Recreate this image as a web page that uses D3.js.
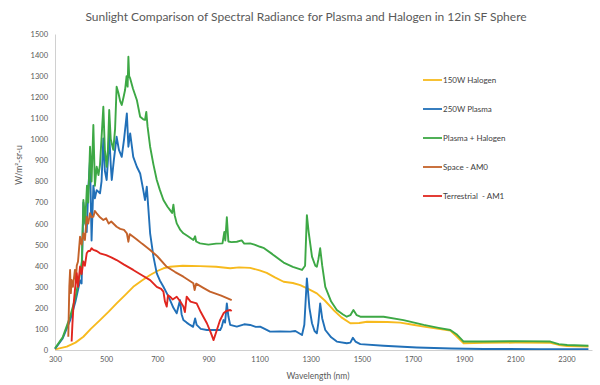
<!DOCTYPE html>
<html>
<head>
<meta charset="utf-8">
<script src="https://cdn.jsdelivr.net/npm/d3@7"></script>
<style>
  body { margin: 0; background: #fff; }
  svg { display: block; }
  text { font-family: Lato, "Open Sans", sans-serif; }
</style>
</head>
<body>
<div id="chart"></div>
<script>
// [wavelength nm, W/m2-sr-u]
const halogen = [[300,3],[346,16],[380,35],[411,63],[440,100],[476,142],[510,182],[541,221],[575,262],[606,300],[640,330],[672,356],[700,375],[724,388],[750,395],[800,400],[867,398],[930,395],[985,388],[1020,392],[1063,390],[1100,378],[1128,366],[1160,345],[1194,324],[1230,318],[1259,308],[1290,290],[1324,269],[1355,235],[1389,190],[1420,155],[1455,127],[1490,128],[1520,134],[1600,133],[1650,130],[1700,120],[1742,111],[1800,100],[1846,92],[1870,65],[1898,32],[1976,34],[2100,35],[2237,34],[2270,24],[2303,19],[2386,16]];

const plasma = [[300,5],[330,55],[359,140],[380,230],[398,330],[404,316],[411,700],[417,620],[424,560],[430,760],[437,900],[443,520],[450,780],[456,720],[463,759],[476,744],[482,800],[489,1004],[495,850],[502,807],[507,900],[512,1028],[518,880],[522,807],[530,900],[541,1012],[550,950],[561,917],[570,1000],[581,1123],[587,965],[594,1028],[606,917],[620,870],[633,838],[645,760],[652,712],[659,775],[664,690],[672,554],[685,443],[698,364],[710,330],[724,300],[737,270],[750,237],[763,200],[776,174],[789,237],[795,170],[802,142],[815,130],[828,119],[840,110],[848,150],[854,119],[870,100],[894,95],[920,95],[946,95],[952,110],[959,142],[965,130],[972,221],[978,160],[985,119],[1011,111],[1040,122],[1063,119],[1085,110],[1102,111],[1120,100],[1141,87],[1180,88],[1220,87],[1240,90],[1266,71],[1275,120],[1285,340],[1295,200],[1305,127],[1315,90],[1324,79],[1330,130],[1337,221],[1345,150],[1357,95],[1380,60],[1402,40],[1441,32],[1455,35],[1465,58],[1475,40],[1494,28],[1585,20],[1715,12],[1850,7],[1976,5],[2200,4],[2386,4]];

const combined = [[300,8],[330,60],[359,158],[380,250],[398,365],[405,420],[411,712],[418,600],[425,780],[430,700],[437,965],[443,800],[450,1068],[456,780],[463,870],[470,830],[476,880],[489,1155],[495,950],[502,870],[507,950],[512,1139],[518,1000],[528,950],[535,1050],[541,1250],[548,1220],[555,1180],[561,1163],[568,1200],[574,1234],[580,1300],[584,1250],[587,1392],[590,1300],[594,1289],[605,1240],[620,1187],[633,1107],[645,1095],[652,1092],[657,1130],[662,1060],[672,965],[685,880],[698,807],[710,760],[724,712],[740,680],[750,664],[758,650],[763,690],[768,640],[776,601],[790,570],[802,554],[820,540],[841,522],[848,540],[852,515],[867,506],[900,500],[930,505],[955,506],[962,560],[966,520],[972,630],[978,515],[990,512],[1011,514],[1030,520],[1040,505],[1063,506],[1080,500],[1102,490],[1115,485],[1150,455],[1194,415],[1230,395],[1266,380],[1278,400],[1285,640],[1292,560],[1305,443],[1318,400],[1324,395],[1330,430],[1337,483],[1345,400],[1357,300],[1380,230],[1402,190],[1425,170],[1441,158],[1455,165],[1467,190],[1480,165],[1494,158],[1585,158],[1663,142],[1742,119],[1800,105],[1846,95],[1870,75],[1898,40],[1976,40],[2100,42],[2237,40],[2270,28],[2303,24],[2386,20]];

const spaceAM0 = [[352,63],[356,300],[359,380],[362,270],[365,332],[370,300],[378,380],[382,330],[385,400],[390,420],[398,538],[404,500],[411,554],[417,522],[424,633],[430,600],[437,649],[443,630],[450,633],[456,660],[463,649],[476,630],[489,617],[500,625],[510,600],[520,610],[541,585],[555,575],[570,570],[581,554],[587,514],[592,550],[606,538],[620,525],[640,505],[672,475],[700,445],[737,395],[770,370],[802,348],[841,317],[846,285],[852,315],[880,295],[906,277],[950,258],[991,237]];

const terrestrialAM1 = [[365,40],[368,120],[372,206],[378,285],[385,364],[390,300],[398,396],[404,360],[411,420],[417,400],[424,459],[430,470],[437,470],[443,483],[450,475],[463,470],[476,459],[500,450],[520,440],[541,427],[570,405],[606,380],[640,355],[672,332],[698,300],[715,290],[724,277],[730,230],[737,206],[742,260],[750,253],[760,240],[776,253],[790,230],[802,206],[808,180],[815,253],[830,230],[854,221],[870,180],[894,127],[910,80],[920,47],[933,95],[945,140],[959,174],[970,185],[985,190],[991,185]];

const seriesNames = ["150W Halogen", "250W Plasma", "Plasma + Halogen", "Space - AM0", "Terrestrial  - AM1"];
const seriesData = [halogen, plasma, combined, spaceAM0, terrestrialAM1];
const seriesColors = ["#F7BA1E", "#2170B8", "#3DA845", "#C4622A", "#E0261F"];

const xTicks = [300, 500, 700, 900, 1100, 1300, 1500, 1700, 1900, 2100, 2300];
const yTicks = d3.range(0, 1501, 100);

const W = 600, H = 385;
const margin = { top: 34, right: 8, bottom: 35, left: 55 };

const svg = d3.select("#chart").append("svg")
  .attr("width", W)
  .attr("height", H);

const x = d3.scaleLinear().domain([300, 2400]).range([margin.left, W - margin.right]);
const y = d3.scaleLinear().domain([0, 1500]).range([H - margin.bottom, margin.top]);

// Title
svg.append("text")
  .attr("x", 306)
  .attr("y", 21)
  .attr("text-anchor", "middle")
  .style("font-size", "12px")
  .style("fill", "#595959")
  .text("Sunlight Comparison  of Spectral Radiance for Plasma and Halogen in 12in SF Sphere");

// Axes
const xAxis = svg.append("g")
  .attr("transform", `translate(0,${y(0)})`)
  .call(d3.axisBottom(x).tickValues(xTicks).tickFormat(d3.format("d")).tickSize(0).tickPadding(7));
const yAxis = svg.append("g")
  .attr("transform", `translate(${margin.left},0)`)
  .call(d3.axisLeft(y).tickValues(yTicks).tickFormat(d3.format("d")).tickSize(0).tickPadding(7));

[xAxis, yAxis].forEach(g => {
  g.select(".domain").attr("stroke", "#d0d0d0");
  g.selectAll("text")
    .style("font-size", "7.5px")
    .style("fill", "#595959")
    .style("font-family", "Lato, sans-serif");
});

// Axis titles
svg.append("text")
  .attr("x", 318)
  .attr("y", 379)
  .attr("text-anchor", "middle")
  .style("font-size", "8.5px")
  .style("fill", "#595959")
  .text("Wavelength (nm)");

svg.append("text")
  .attr("transform", "translate(22,165) rotate(-90)")
  .attr("text-anchor", "middle")
  .style("font-size", "8.5px")
  .style("fill", "#595959")
  .text("W/m²-sr-u");

// Lines
const line = d3.line()
  .x(d => x(d[0]))
  .y(d => y(d[1]));

seriesData.forEach((data, i) => {
  svg.append("path")
    .datum(data)
    .attr("fill", "none")
    .attr("stroke", seriesColors[i])
    .attr("stroke-width", 1.9)
    .attr("stroke-linejoin", "round")
    .attr("d", line);
});

// Legend
const legend = svg.selectAll(".legend")
  .data(seriesNames)
  .enter().append("g")
  .attr("class", "legend")
  .attr("transform", (d, i) => `translate(423,${80 + i * 29})`);

legend.append("line")
  .attr("x1", 0)
  .attr("x2", 19)
  .attr("stroke", (d, i) => seriesColors[i])
  .attr("stroke-width", 1.8);

legend.append("text")
  .attr("x", 20)
  .attr("dy", "0.35em")
  .style("font-size", "8px")
  .style("fill", "#404040")
  .style("white-space", "pre")
  .text(d => d);
</script>
</body>
</html>
